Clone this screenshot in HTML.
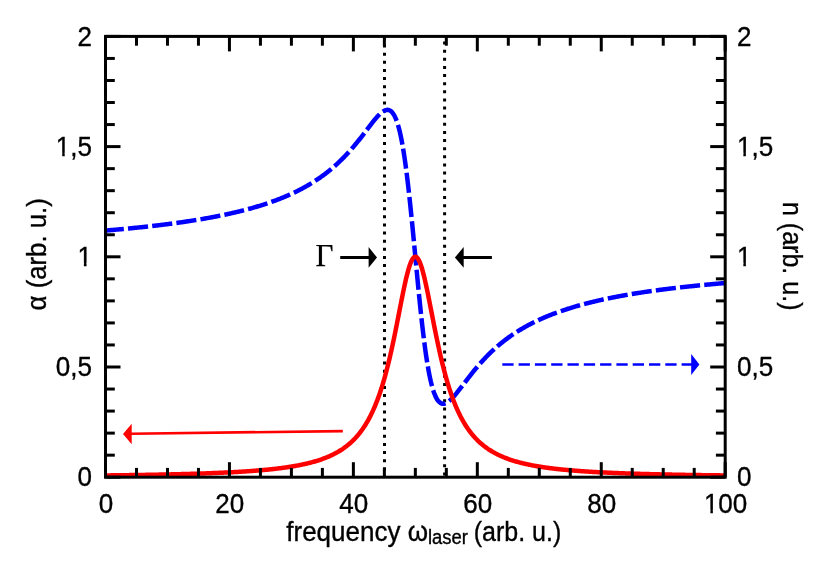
<!DOCTYPE html>
<html><head><meta charset="utf-8"><title>chart</title>
<style>
html,body{margin:0;padding:0;background:#fff;}
svg{display:block;will-change:transform;}
text{font-family:"Liberation Sans",sans-serif;font-size:28px;fill:#000;stroke:#000;stroke-width:0.35px;}
.serif{font-family:"Liberation Serif",serif;}
</style></head><body>
<svg width="830" height="572" viewBox="0 0 830 572">
<rect x="0" y="0" width="830" height="572" fill="#fff"/>
<!-- dotted vertical lines -->
<g stroke="#000" stroke-width="3" fill="none" stroke-dasharray="3 5.13">
<line x1="384.5" y1="36.4" x2="384.5" y2="477.2" stroke-dashoffset="0"/>
<line x1="444.6" y1="36.4" x2="444.6" y2="477.2" stroke-dashoffset="3"/>
</g>
<!-- curves -->
<path d="M105.50,230.56 L106.27,230.50 L107.05,230.43 L107.82,230.37 L108.60,230.30 L109.37,230.24 L110.15,230.17 L110.92,230.10 L111.70,230.04 L112.47,229.97 L113.25,229.90 L114.02,229.84 L114.80,229.77 L115.57,229.70 L116.34,229.63 L117.12,229.56 L117.89,229.49 L118.67,229.42 L119.44,229.35 L120.22,229.28 L120.99,229.21 L121.77,229.14 L122.54,229.06 L123.32,228.99 L124.09,228.92 L124.87,228.85 L125.64,228.77 L126.41,228.70 L127.19,228.63 L127.96,228.55 L128.74,228.48 L129.51,228.40 L130.29,228.32 L131.06,228.25 L131.84,228.17 L132.61,228.10 L133.39,228.02 L134.16,227.94 L134.94,227.86 L135.71,227.78 L136.49,227.70 L137.26,227.62 L138.03,227.54 L138.81,227.46 L139.58,227.38 L140.36,227.30 L141.13,227.22 L141.91,227.14 L142.68,227.06 L143.46,226.97 L144.23,226.89 L145.01,226.81 L145.78,226.72 L146.56,226.64 L147.33,226.55 L148.10,226.47 L148.88,226.38 L149.65,226.29 L150.43,226.21 L151.20,226.12 L151.98,226.03 L152.75,225.94 L153.53,225.85 L154.30,225.76 L155.08,225.67 L155.85,225.58 L156.63,225.49 L157.40,225.40 L158.17,225.31 L158.95,225.21 L159.72,225.12 L160.50,225.02 L161.27,224.93 L162.05,224.84 L162.82,224.74 L163.60,224.64 L164.37,224.55 L165.15,224.45 L165.92,224.35 L166.70,224.25 L167.47,224.15 L168.24,224.05 L169.02,223.95 L169.79,223.85 L170.57,223.75 L171.34,223.65 L172.12,223.55 L172.89,223.44 L173.67,223.34 L174.44,223.23 L175.22,223.13 L175.99,223.02 L176.77,222.91 L177.54,222.81 L178.31,222.70 L179.09,222.59 L179.86,222.48 L180.64,222.37 L181.41,222.26 L182.19,222.15 L182.96,222.04 L183.74,221.92 L184.51,221.81 L185.29,221.70 L186.06,221.58 L186.84,221.46 L187.61,221.35 L188.38,221.23 L189.16,221.11 L189.93,220.99 L190.71,220.87 L191.48,220.75 L192.26,220.63 L193.03,220.51 L193.81,220.39 L194.58,220.26 L195.36,220.14 L196.13,220.01 L196.91,219.89 L197.68,219.76 L198.45,219.63 L199.23,219.50 L200.00,219.37 L200.78,219.24 L201.55,219.11 L202.33,218.98 L203.10,218.84 L203.88,218.71 L204.65,218.58 L205.43,218.44 L206.20,218.30 L206.98,218.16 L207.75,218.03 L208.53,217.88 L209.30,217.74 L210.07,217.60 L210.85,217.46 L211.62,217.31 L212.40,217.17 L213.17,217.02 L213.95,216.88 L214.72,216.73 L215.50,216.58 L216.27,216.43 L217.05,216.28 L217.82,216.12 L218.60,215.97 L219.37,215.81 L220.14,215.66 L220.92,215.50 L221.69,215.34 L222.47,215.18 L223.24,215.02 L224.02,214.86 L224.79,214.70 L225.57,214.53 L226.34,214.37 L227.12,214.20 L227.89,214.03 L228.67,213.86 L229.44,213.69 L230.21,213.52 L230.99,213.34 L231.76,213.17 L232.54,212.99 L233.31,212.81 L234.09,212.64 L234.86,212.45 L235.64,212.27 L236.41,212.09 L237.19,211.90 L237.96,211.72 L238.74,211.53 L239.51,211.34 L240.28,211.15 L241.06,210.95 L241.83,210.76 L242.61,210.56 L243.38,210.37 L244.16,210.17 L244.93,209.97 L245.71,209.76 L246.48,209.56 L247.26,209.35 L248.03,209.15 L248.81,208.94 L249.58,208.72 L250.35,208.51 L251.13,208.30 L251.90,208.08 L252.68,207.86 L253.45,207.64 L254.23,207.42 L255.00,207.19 L255.78,206.97 L256.55,206.74 L257.33,206.51 L258.10,206.27 L258.88,206.04 L259.65,205.80 L260.43,205.56 L261.20,205.32 L261.97,205.08 L262.75,204.83 L263.52,204.59 L264.30,204.34 L265.07,204.08 L265.85,203.83 L266.62,203.57 L267.40,203.31 L268.17,203.05 L268.95,202.79 L269.72,202.52 L270.50,202.25 L271.27,201.98 L272.04,201.70 L272.82,201.42 L273.59,201.14 L274.37,200.86 L275.14,200.58 L275.92,200.29 L276.69,200.00 L277.47,199.70 L278.24,199.40 L279.02,199.10 L279.79,198.80 L280.57,198.50 L281.34,198.19 L282.11,197.87 L282.89,197.56 L283.66,197.24 L284.44,196.92 L285.21,196.59 L285.99,196.26 L286.76,195.93 L287.54,195.60 L288.31,195.26 L289.09,194.92 L289.86,194.57 L290.64,194.22 L291.41,193.87 L292.18,193.51 L292.96,193.15 L293.73,192.78 L294.51,192.41 L295.28,192.04 L296.06,191.66 L296.83,191.28 L297.61,190.90 L298.38,190.51 L299.16,190.11 L299.93,189.71 L300.71,189.31 L301.48,188.90 L302.25,188.49 L303.03,188.08 L303.80,187.65 L304.58,187.23 L305.35,186.80 L306.13,186.36 L306.90,185.92 L307.68,185.47 L308.45,185.02 L309.23,184.57 L310.00,184.11 L310.78,183.64 L311.55,183.17 L312.32,182.69 L313.10,182.20 L313.87,181.71 L314.65,181.22 L315.42,180.72 L316.20,180.21 L316.97,179.69 L317.75,179.17 L318.52,178.65 L319.30,178.12 L320.07,177.58 L320.85,177.03 L321.62,176.48 L322.39,175.92 L323.17,175.35 L323.94,174.78 L324.72,174.20 L325.49,173.61 L326.27,173.02 L327.04,172.42 L327.82,171.81 L328.59,171.19 L329.37,170.56 L330.14,169.93 L330.92,169.29 L331.69,168.64 L332.47,167.98 L333.24,167.32 L334.01,166.64 L334.79,165.96 L335.56,165.27 L336.34,164.57 L337.11,163.86 L337.89,163.15 L338.66,162.42 L339.44,161.68 L340.21,160.94 L340.99,160.19 L341.76,159.42 L342.54,158.65 L343.31,157.87 L344.08,157.08 L344.86,156.28 L345.63,155.47 L346.41,154.65 L347.18,153.82 L347.96,152.98 L348.73,152.13 L349.51,151.27 L350.28,150.40 L351.06,149.52 L351.83,148.63 L352.61,147.74 L353.38,146.83 L354.15,145.91 L354.93,144.99 L355.70,144.05 L356.48,143.11 L357.25,142.16 L358.03,141.20 L358.80,140.23 L359.58,139.25 L360.35,138.27 L361.13,137.28 L361.90,136.28 L362.68,135.28 L363.45,134.28 L364.22,133.26 L365.00,132.25 L365.77,131.23 L366.55,130.21 L367.32,129.19 L368.10,128.17 L368.87,127.15 L369.65,126.14 L370.42,125.13 L371.20,124.12 L371.97,123.13 L372.75,122.14 L373.52,121.17 L374.29,120.21 L375.07,119.27 L375.84,118.35 L376.62,117.45 L377.39,116.58 L378.17,115.74 L378.94,114.94 L379.72,114.17 L380.49,113.45 L381.27,112.78 L382.04,112.16 L382.82,111.60 L383.59,111.10 L384.37,110.68 L385.14,110.34 L385.91,110.08 L386.69,109.92 L387.46,109.87 L388.24,109.92 L389.01,110.11 L389.79,110.42 L390.56,110.88 L391.34,111.49 L392.11,112.28 L392.89,113.24 L393.66,114.39 L394.44,115.74 L395.21,117.32 L395.98,119.12 L396.76,121.17 L397.53,123.47 L398.31,126.05 L399.08,128.90 L399.86,132.05 L400.63,135.49 L401.41,139.25 L402.18,143.33 L402.96,147.74 L403.73,152.47 L404.51,157.53 L405.28,162.92 L406.05,168.64 L406.83,174.67 L407.60,181.02 L408.38,187.65 L409.15,194.57 L409.93,201.74 L410.70,209.15 L411.48,216.76 L412.25,224.55 L413.03,232.48 L413.80,240.52 L414.58,248.64 L415.35,256.80 L416.12,264.96 L416.90,273.08 L417.67,281.12 L418.45,289.05 L419.22,296.84 L420.00,304.45 L420.77,311.86 L421.55,319.03 L422.32,325.95 L423.10,332.58 L423.87,338.93 L424.65,344.96 L425.42,350.68 L426.19,356.07 L426.97,361.13 L427.74,365.86 L428.52,370.27 L429.29,374.35 L430.07,378.11 L430.84,381.55 L431.62,384.70 L432.39,387.55 L433.17,390.13 L433.94,392.43 L434.72,394.48 L435.49,396.28 L436.26,397.86 L437.04,399.21 L437.81,400.36 L438.59,401.32 L439.36,402.11 L440.14,402.72 L440.91,403.18 L441.69,403.49 L442.46,403.68 L443.24,403.73 L444.01,403.68 L444.79,403.52 L445.56,403.26 L446.33,402.92 L447.11,402.50 L447.88,402.00 L448.66,401.44 L449.43,400.82 L450.21,400.15 L450.98,399.43 L451.76,398.66 L452.53,397.86 L453.31,397.02 L454.08,396.15 L454.86,395.25 L455.63,394.33 L456.41,393.39 L457.18,392.43 L457.95,391.46 L458.73,390.47 L459.50,389.48 L460.28,388.47 L461.05,387.46 L461.83,386.45 L462.60,385.43 L463.38,384.41 L464.15,383.39 L464.93,382.37 L465.70,381.35 L466.48,380.34 L467.25,379.32 L468.02,378.32 L468.80,377.32 L469.57,376.32 L470.35,375.33 L471.12,374.35 L471.90,373.37 L472.67,372.40 L473.45,371.44 L474.22,370.49 L475.00,369.55 L475.77,368.61 L476.55,367.69 L477.32,366.77 L478.09,365.86 L478.87,364.97 L479.64,364.08 L480.42,363.20 L481.19,362.33 L481.97,361.47 L482.74,360.62 L483.52,359.78 L484.29,358.95 L485.07,358.13 L485.84,357.32 L486.62,356.52 L487.39,355.73 L488.16,354.95 L488.94,354.18 L489.71,353.41 L490.49,352.66 L491.26,351.92 L492.04,351.18 L492.81,350.45 L493.59,349.74 L494.36,349.03 L495.14,348.33 L495.91,347.64 L496.69,346.96 L497.46,346.28 L498.23,345.62 L499.01,344.96 L499.78,344.31 L500.56,343.67 L501.33,343.04 L502.11,342.41 L502.88,341.79 L503.66,341.18 L504.43,340.58 L505.21,339.99 L505.98,339.40 L506.76,338.82 L507.53,338.25 L508.31,337.68 L509.08,337.12 L509.85,336.57 L510.63,336.02 L511.40,335.48 L512.18,334.95 L512.95,334.43 L513.73,333.91 L514.50,333.39 L515.28,332.88 L516.05,332.38 L516.83,331.89 L517.60,331.40 L518.38,330.91 L519.15,330.43 L519.92,329.96 L520.70,329.49 L521.47,329.03 L522.25,328.58 L523.02,328.13 L523.80,327.68 L524.57,327.24 L525.35,326.80 L526.12,326.37 L526.90,325.95 L527.67,325.52 L528.45,325.11 L529.22,324.70 L529.99,324.29 L530.77,323.89 L531.54,323.49 L532.32,323.09 L533.09,322.70 L533.87,322.32 L534.64,321.94 L535.42,321.56 L536.19,321.19 L536.97,320.82 L537.74,320.45 L538.52,320.09 L539.29,319.73 L540.06,319.38 L540.84,319.03 L541.61,318.68 L542.39,318.34 L543.16,318.00 L543.94,317.67 L544.71,317.34 L545.49,317.01 L546.26,316.68 L547.04,316.36 L547.81,316.04 L548.59,315.73 L549.36,315.41 L550.13,315.10 L550.91,314.80 L551.68,314.50 L552.46,314.20 L553.23,313.90 L554.01,313.60 L554.78,313.31 L555.56,313.02 L556.33,312.74 L557.11,312.46 L557.88,312.18 L558.66,311.90 L559.43,311.62 L560.20,311.35 L560.98,311.08 L561.75,310.81 L562.53,310.55 L563.30,310.29 L564.08,310.03 L564.85,309.77 L565.63,309.52 L566.40,309.26 L567.18,309.01 L567.95,308.77 L568.73,308.52 L569.50,308.28 L570.27,308.04 L571.05,307.80 L571.82,307.56 L572.60,307.33 L573.37,307.09 L574.15,306.86 L574.92,306.63 L575.70,306.41 L576.47,306.18 L577.25,305.96 L578.02,305.74 L578.80,305.52 L579.57,305.30 L580.35,305.09 L581.12,304.88 L581.89,304.66 L582.67,304.45 L583.44,304.25 L584.22,304.04 L584.99,303.84 L585.77,303.63 L586.54,303.43 L587.32,303.23 L588.09,303.04 L588.87,302.84 L589.64,302.65 L590.42,302.45 L591.19,302.26 L591.96,302.07 L592.74,301.88 L593.51,301.70 L594.29,301.51 L595.06,301.33 L595.84,301.15 L596.61,300.96 L597.39,300.79 L598.16,300.61 L598.94,300.43 L599.71,300.26 L600.49,300.08 L601.26,299.91 L602.03,299.74 L602.81,299.57 L603.58,299.40 L604.36,299.23 L605.13,299.07 L605.91,298.90 L606.68,298.74 L607.46,298.58 L608.23,298.42 L609.01,298.26 L609.78,298.10 L610.56,297.94 L611.33,297.79 L612.10,297.63 L612.88,297.48 L613.65,297.32 L614.43,297.17 L615.20,297.02 L615.98,296.87 L616.75,296.72 L617.53,296.58 L618.30,296.43 L619.08,296.29 L619.85,296.14 L620.63,296.00 L621.40,295.86 L622.17,295.72 L622.95,295.57 L623.72,295.44 L624.50,295.30 L625.27,295.16 L626.05,295.02 L626.82,294.89 L627.60,294.76 L628.37,294.62 L629.15,294.49 L629.92,294.36 L630.70,294.23 L631.47,294.10 L632.25,293.97 L633.02,293.84 L633.79,293.71 L634.57,293.59 L635.34,293.46 L636.12,293.34 L636.89,293.21 L637.67,293.09 L638.44,292.97 L639.22,292.85 L639.99,292.73 L640.77,292.61 L641.54,292.49 L642.32,292.37 L643.09,292.25 L643.86,292.14 L644.64,292.02 L645.41,291.90 L646.19,291.79 L646.96,291.68 L647.74,291.56 L648.51,291.45 L649.29,291.34 L650.06,291.23 L650.84,291.12 L651.61,291.01 L652.39,290.90 L653.16,290.79 L653.93,290.69 L654.71,290.58 L655.48,290.47 L656.26,290.37 L657.03,290.26 L657.81,290.16 L658.58,290.05 L659.36,289.95 L660.13,289.85 L660.91,289.75 L661.68,289.65 L662.46,289.55 L663.23,289.45 L664.00,289.35 L664.78,289.25 L665.55,289.15 L666.33,289.05 L667.10,288.96 L667.88,288.86 L668.65,288.76 L669.43,288.67 L670.20,288.58 L670.98,288.48 L671.75,288.39 L672.53,288.29 L673.30,288.20 L674.07,288.11 L674.85,288.02 L675.62,287.93 L676.40,287.84 L677.17,287.75 L677.95,287.66 L678.72,287.57 L679.50,287.48 L680.27,287.39 L681.05,287.31 L681.82,287.22 L682.60,287.13 L683.37,287.05 L684.14,286.96 L684.92,286.88 L685.69,286.79 L686.47,286.71 L687.24,286.63 L688.02,286.54 L688.79,286.46 L689.57,286.38 L690.34,286.30 L691.12,286.22 L691.89,286.14 L692.67,286.06 L693.44,285.98 L694.22,285.90 L694.99,285.82 L695.76,285.74 L696.54,285.66 L697.31,285.58 L698.09,285.50 L698.86,285.43 L699.64,285.35 L700.41,285.28 L701.19,285.20 L701.96,285.12 L702.74,285.05 L703.51,284.97 L704.29,284.90 L705.06,284.83 L705.83,284.75 L706.61,284.68 L707.38,284.61 L708.16,284.54 L708.93,284.46 L709.71,284.39 L710.48,284.32 L711.26,284.25 L712.03,284.18 L712.81,284.11 L713.58,284.04 L714.36,283.97 L715.13,283.90 L715.90,283.83 L716.68,283.76 L717.45,283.70 L718.23,283.63 L719.00,283.56 L719.78,283.50 L720.55,283.43 L721.33,283.36 L722.10,283.30 L722.88,283.23 L723.65,283.17 L724.43,283.10 L725.20,283.04" fill="none" stroke="#0000ff" stroke-width="4.5" stroke-dasharray="20.2 4.16" stroke-dashoffset="1.8"/>
<path d="M105.50,475.43 L106.27,475.42 L107.05,475.41 L107.82,475.40 L108.60,475.39 L109.37,475.38 L110.15,475.38 L110.92,475.37 L111.70,475.36 L112.47,475.35 L113.25,475.34 L114.02,475.33 L114.80,475.32 L115.57,475.31 L116.34,475.30 L117.12,475.29 L117.89,475.28 L118.67,475.27 L119.44,475.26 L120.22,475.25 L120.99,475.24 L121.77,475.23 L122.54,475.22 L123.32,475.21 L124.09,475.20 L124.87,475.19 L125.64,475.18 L126.41,475.17 L127.19,475.16 L127.96,475.14 L128.74,475.13 L129.51,475.12 L130.29,475.11 L131.06,475.10 L131.84,475.09 L132.61,475.08 L133.39,475.07 L134.16,475.05 L134.94,475.04 L135.71,475.03 L136.49,475.02 L137.26,475.01 L138.03,474.99 L138.81,474.98 L139.58,474.97 L140.36,474.96 L141.13,474.94 L141.91,474.93 L142.68,474.92 L143.46,474.91 L144.23,474.89 L145.01,474.88 L145.78,474.87 L146.56,474.85 L147.33,474.84 L148.10,474.83 L148.88,474.81 L149.65,474.80 L150.43,474.78 L151.20,474.77 L151.98,474.76 L152.75,474.74 L153.53,474.73 L154.30,474.71 L155.08,474.70 L155.85,474.68 L156.63,474.67 L157.40,474.65 L158.17,474.64 L158.95,474.62 L159.72,474.61 L160.50,474.59 L161.27,474.58 L162.05,474.56 L162.82,474.54 L163.60,474.53 L164.37,474.51 L165.15,474.50 L165.92,474.48 L166.70,474.46 L167.47,474.45 L168.24,474.43 L169.02,474.41 L169.79,474.39 L170.57,474.38 L171.34,474.36 L172.12,474.34 L172.89,474.32 L173.67,474.30 L174.44,474.29 L175.22,474.27 L175.99,474.25 L176.77,474.23 L177.54,474.21 L178.31,474.19 L179.09,474.17 L179.86,474.15 L180.64,474.13 L181.41,474.11 L182.19,474.09 L182.96,474.07 L183.74,474.05 L184.51,474.03 L185.29,474.01 L186.06,473.99 L186.84,473.97 L187.61,473.94 L188.38,473.92 L189.16,473.90 L189.93,473.88 L190.71,473.86 L191.48,473.83 L192.26,473.81 L193.03,473.79 L193.81,473.76 L194.58,473.74 L195.36,473.71 L196.13,473.69 L196.91,473.67 L197.68,473.64 L198.45,473.62 L199.23,473.59 L200.00,473.56 L200.78,473.54 L201.55,473.51 L202.33,473.49 L203.10,473.46 L203.88,473.43 L204.65,473.41 L205.43,473.38 L206.20,473.35 L206.98,473.32 L207.75,473.29 L208.53,473.26 L209.30,473.24 L210.07,473.21 L210.85,473.18 L211.62,473.15 L212.40,473.12 L213.17,473.09 L213.95,473.05 L214.72,473.02 L215.50,472.99 L216.27,472.96 L217.05,472.93 L217.82,472.89 L218.60,472.86 L219.37,472.83 L220.14,472.79 L220.92,472.76 L221.69,472.72 L222.47,472.69 L223.24,472.65 L224.02,472.62 L224.79,472.58 L225.57,472.54 L226.34,472.50 L227.12,472.47 L227.89,472.43 L228.67,472.39 L229.44,472.35 L230.21,472.31 L230.99,472.27 L231.76,472.23 L232.54,472.19 L233.31,472.15 L234.09,472.10 L234.86,472.06 L235.64,472.02 L236.41,471.97 L237.19,471.93 L237.96,471.88 L238.74,471.84 L239.51,471.79 L240.28,471.75 L241.06,471.70 L241.83,471.65 L242.61,471.60 L243.38,471.55 L244.16,471.50 L244.93,471.45 L245.71,471.40 L246.48,471.35 L247.26,471.30 L248.03,471.24 L248.81,471.19 L249.58,471.13 L250.35,471.08 L251.13,471.02 L251.90,470.97 L252.68,470.91 L253.45,470.85 L254.23,470.79 L255.00,470.73 L255.78,470.67 L256.55,470.61 L257.33,470.54 L258.10,470.48 L258.88,470.42 L259.65,470.35 L260.43,470.28 L261.20,470.22 L261.97,470.15 L262.75,470.08 L263.52,470.01 L264.30,469.94 L265.07,469.86 L265.85,469.79 L266.62,469.71 L267.40,469.64 L268.17,469.56 L268.95,469.48 L269.72,469.40 L270.50,469.32 L271.27,469.24 L272.04,469.16 L272.82,469.07 L273.59,468.99 L274.37,468.90 L275.14,468.81 L275.92,468.72 L276.69,468.63 L277.47,468.54 L278.24,468.44 L279.02,468.35 L279.79,468.25 L280.57,468.15 L281.34,468.05 L282.11,467.95 L282.89,467.85 L283.66,467.74 L284.44,467.63 L285.21,467.52 L285.99,467.41 L286.76,467.30 L287.54,467.18 L288.31,467.07 L289.09,466.95 L289.86,466.83 L290.64,466.71 L291.41,466.58 L292.18,466.45 L292.96,466.32 L293.73,466.19 L294.51,466.06 L295.28,465.92 L296.06,465.78 L296.83,465.64 L297.61,465.49 L298.38,465.35 L299.16,465.20 L299.93,465.04 L300.71,464.89 L301.48,464.73 L302.25,464.57 L303.03,464.40 L303.80,464.24 L304.58,464.06 L305.35,463.89 L306.13,463.71 L306.90,463.53 L307.68,463.35 L308.45,463.16 L309.23,462.96 L310.00,462.77 L310.78,462.57 L311.55,462.36 L312.32,462.15 L313.10,461.94 L313.87,461.72 L314.65,461.50 L315.42,461.28 L316.20,461.04 L316.97,460.81 L317.75,460.57 L318.52,460.32 L319.30,460.07 L320.07,459.81 L320.85,459.55 L321.62,459.28 L322.39,459.00 L323.17,458.72 L323.94,458.43 L324.72,458.14 L325.49,457.84 L326.27,457.53 L327.04,457.21 L327.82,456.89 L328.59,456.56 L329.37,456.22 L330.14,455.88 L330.92,455.52 L331.69,455.16 L332.47,454.79 L333.24,454.41 L334.01,454.02 L334.79,453.62 L335.56,453.21 L336.34,452.79 L337.11,452.36 L337.89,451.91 L338.66,451.46 L339.44,450.99 L340.21,450.52 L340.99,450.03 L341.76,449.52 L342.54,449.01 L343.31,448.48 L344.08,447.93 L344.86,447.37 L345.63,446.80 L346.41,446.21 L347.18,445.60 L347.96,444.98 L348.73,444.34 L349.51,443.68 L350.28,443.00 L351.06,442.30 L351.83,441.58 L352.61,440.85 L353.38,440.08 L354.15,439.30 L354.93,438.50 L355.70,437.67 L356.48,436.81 L357.25,435.93 L358.03,435.02 L358.80,434.08 L359.58,433.12 L360.35,432.13 L361.13,431.10 L361.90,430.04 L362.68,428.95 L363.45,427.82 L364.22,426.66 L365.00,425.46 L365.77,424.23 L366.55,422.95 L367.32,421.63 L368.10,420.27 L368.87,418.86 L369.65,417.41 L370.42,415.90 L371.20,414.35 L371.97,412.75 L372.75,411.10 L373.52,409.38 L374.29,407.62 L375.07,405.79 L375.84,403.90 L376.62,401.95 L377.39,399.94 L378.17,397.86 L378.94,395.71 L379.72,393.48 L380.49,391.19 L381.27,388.82 L382.04,386.38 L382.82,383.85 L383.59,381.25 L384.37,378.57 L385.14,375.80 L385.91,372.95 L386.69,370.02 L387.46,367.00 L388.24,363.90 L389.01,360.71 L389.79,357.44 L390.56,354.08 L391.34,350.64 L392.11,347.13 L392.89,343.54 L393.66,339.87 L394.44,336.14 L395.21,332.35 L395.98,328.51 L396.76,324.62 L397.53,320.69 L398.31,316.73 L399.08,312.76 L399.86,308.78 L400.63,304.82 L401.41,300.88 L402.18,296.99 L402.96,293.15 L403.73,289.40 L404.51,285.75 L405.28,282.22 L406.05,278.84 L406.83,275.62 L407.60,272.59 L408.38,269.76 L409.15,267.17 L409.93,264.83 L410.70,262.76 L411.48,260.97 L412.25,259.49 L413.03,258.32 L413.80,257.48 L414.58,256.97 L415.35,256.80 L416.12,256.97 L416.90,257.48 L417.67,258.32 L418.45,259.49 L419.22,260.97 L420.00,262.76 L420.77,264.83 L421.55,267.17 L422.32,269.76 L423.10,272.59 L423.87,275.62 L424.65,278.84 L425.42,282.22 L426.19,285.75 L426.97,289.40 L427.74,293.15 L428.52,296.99 L429.29,300.88 L430.07,304.82 L430.84,308.78 L431.62,312.76 L432.39,316.73 L433.17,320.69 L433.94,324.62 L434.72,328.51 L435.49,332.35 L436.26,336.14 L437.04,339.87 L437.81,343.54 L438.59,347.13 L439.36,350.64 L440.14,354.08 L440.91,357.44 L441.69,360.71 L442.46,363.90 L443.24,367.00 L444.01,370.02 L444.79,372.95 L445.56,375.80 L446.33,378.57 L447.11,381.25 L447.88,383.85 L448.66,386.38 L449.43,388.82 L450.21,391.19 L450.98,393.48 L451.76,395.71 L452.53,397.86 L453.31,399.94 L454.08,401.95 L454.86,403.90 L455.63,405.79 L456.41,407.62 L457.18,409.38 L457.95,411.10 L458.73,412.75 L459.50,414.35 L460.28,415.90 L461.05,417.41 L461.83,418.86 L462.60,420.27 L463.38,421.63 L464.15,422.95 L464.93,424.23 L465.70,425.46 L466.48,426.66 L467.25,427.82 L468.02,428.95 L468.80,430.04 L469.57,431.10 L470.35,432.13 L471.12,433.12 L471.90,434.08 L472.67,435.02 L473.45,435.93 L474.22,436.81 L475.00,437.67 L475.77,438.50 L476.55,439.30 L477.32,440.08 L478.09,440.85 L478.87,441.58 L479.64,442.30 L480.42,443.00 L481.19,443.68 L481.97,444.34 L482.74,444.98 L483.52,445.60 L484.29,446.21 L485.07,446.80 L485.84,447.37 L486.62,447.93 L487.39,448.48 L488.16,449.01 L488.94,449.52 L489.71,450.03 L490.49,450.52 L491.26,450.99 L492.04,451.46 L492.81,451.91 L493.59,452.36 L494.36,452.79 L495.14,453.21 L495.91,453.62 L496.69,454.02 L497.46,454.41 L498.23,454.79 L499.01,455.16 L499.78,455.52 L500.56,455.88 L501.33,456.22 L502.11,456.56 L502.88,456.89 L503.66,457.21 L504.43,457.53 L505.21,457.84 L505.98,458.14 L506.76,458.43 L507.53,458.72 L508.31,459.00 L509.08,459.28 L509.85,459.55 L510.63,459.81 L511.40,460.07 L512.18,460.32 L512.95,460.57 L513.73,460.81 L514.50,461.04 L515.28,461.28 L516.05,461.50 L516.83,461.72 L517.60,461.94 L518.38,462.15 L519.15,462.36 L519.92,462.57 L520.70,462.77 L521.47,462.96 L522.25,463.16 L523.02,463.35 L523.80,463.53 L524.57,463.71 L525.35,463.89 L526.12,464.06 L526.90,464.24 L527.67,464.40 L528.45,464.57 L529.22,464.73 L529.99,464.89 L530.77,465.04 L531.54,465.20 L532.32,465.35 L533.09,465.49 L533.87,465.64 L534.64,465.78 L535.42,465.92 L536.19,466.06 L536.97,466.19 L537.74,466.32 L538.52,466.45 L539.29,466.58 L540.06,466.71 L540.84,466.83 L541.61,466.95 L542.39,467.07 L543.16,467.18 L543.94,467.30 L544.71,467.41 L545.49,467.52 L546.26,467.63 L547.04,467.74 L547.81,467.85 L548.59,467.95 L549.36,468.05 L550.13,468.15 L550.91,468.25 L551.68,468.35 L552.46,468.44 L553.23,468.54 L554.01,468.63 L554.78,468.72 L555.56,468.81 L556.33,468.90 L557.11,468.99 L557.88,469.07 L558.66,469.16 L559.43,469.24 L560.20,469.32 L560.98,469.40 L561.75,469.48 L562.53,469.56 L563.30,469.64 L564.08,469.71 L564.85,469.79 L565.63,469.86 L566.40,469.94 L567.18,470.01 L567.95,470.08 L568.73,470.15 L569.50,470.22 L570.27,470.28 L571.05,470.35 L571.82,470.42 L572.60,470.48 L573.37,470.54 L574.15,470.61 L574.92,470.67 L575.70,470.73 L576.47,470.79 L577.25,470.85 L578.02,470.91 L578.80,470.97 L579.57,471.02 L580.35,471.08 L581.12,471.13 L581.89,471.19 L582.67,471.24 L583.44,471.30 L584.22,471.35 L584.99,471.40 L585.77,471.45 L586.54,471.50 L587.32,471.55 L588.09,471.60 L588.87,471.65 L589.64,471.70 L590.42,471.75 L591.19,471.79 L591.96,471.84 L592.74,471.88 L593.51,471.93 L594.29,471.97 L595.06,472.02 L595.84,472.06 L596.61,472.10 L597.39,472.15 L598.16,472.19 L598.94,472.23 L599.71,472.27 L600.49,472.31 L601.26,472.35 L602.03,472.39 L602.81,472.43 L603.58,472.47 L604.36,472.50 L605.13,472.54 L605.91,472.58 L606.68,472.62 L607.46,472.65 L608.23,472.69 L609.01,472.72 L609.78,472.76 L610.56,472.79 L611.33,472.83 L612.10,472.86 L612.88,472.89 L613.65,472.93 L614.43,472.96 L615.20,472.99 L615.98,473.02 L616.75,473.05 L617.53,473.09 L618.30,473.12 L619.08,473.15 L619.85,473.18 L620.63,473.21 L621.40,473.24 L622.17,473.26 L622.95,473.29 L623.72,473.32 L624.50,473.35 L625.27,473.38 L626.05,473.41 L626.82,473.43 L627.60,473.46 L628.37,473.49 L629.15,473.51 L629.92,473.54 L630.70,473.56 L631.47,473.59 L632.25,473.62 L633.02,473.64 L633.79,473.67 L634.57,473.69 L635.34,473.71 L636.12,473.74 L636.89,473.76 L637.67,473.79 L638.44,473.81 L639.22,473.83 L639.99,473.86 L640.77,473.88 L641.54,473.90 L642.32,473.92 L643.09,473.94 L643.86,473.97 L644.64,473.99 L645.41,474.01 L646.19,474.03 L646.96,474.05 L647.74,474.07 L648.51,474.09 L649.29,474.11 L650.06,474.13 L650.84,474.15 L651.61,474.17 L652.39,474.19 L653.16,474.21 L653.93,474.23 L654.71,474.25 L655.48,474.27 L656.26,474.29 L657.03,474.30 L657.81,474.32 L658.58,474.34 L659.36,474.36 L660.13,474.38 L660.91,474.39 L661.68,474.41 L662.46,474.43 L663.23,474.45 L664.00,474.46 L664.78,474.48 L665.55,474.50 L666.33,474.51 L667.10,474.53 L667.88,474.54 L668.65,474.56 L669.43,474.58 L670.20,474.59 L670.98,474.61 L671.75,474.62 L672.53,474.64 L673.30,474.65 L674.07,474.67 L674.85,474.68 L675.62,474.70 L676.40,474.71 L677.17,474.73 L677.95,474.74 L678.72,474.76 L679.50,474.77 L680.27,474.78 L681.05,474.80 L681.82,474.81 L682.60,474.83 L683.37,474.84 L684.14,474.85 L684.92,474.87 L685.69,474.88 L686.47,474.89 L687.24,474.91 L688.02,474.92 L688.79,474.93 L689.57,474.94 L690.34,474.96 L691.12,474.97 L691.89,474.98 L692.67,474.99 L693.44,475.01 L694.22,475.02 L694.99,475.03 L695.76,475.04 L696.54,475.05 L697.31,475.07 L698.09,475.08 L698.86,475.09 L699.64,475.10 L700.41,475.11 L701.19,475.12 L701.96,475.13 L702.74,475.14 L703.51,475.16 L704.29,475.17 L705.06,475.18 L705.83,475.19 L706.61,475.20 L707.38,475.21 L708.16,475.22 L708.93,475.23 L709.71,475.24 L710.48,475.25 L711.26,475.26 L712.03,475.27 L712.81,475.28 L713.58,475.29 L714.36,475.30 L715.13,475.31 L715.90,475.32 L716.68,475.33 L717.45,475.34 L718.23,475.35 L719.00,475.36 L719.78,475.37 L720.55,475.38 L721.33,475.38 L722.10,475.39 L722.88,475.40 L723.65,475.41 L724.43,475.42 L725.20,475.43" fill="none" stroke="#ff0000" stroke-width="4.5" stroke-linejoin="round"/>
<!-- frame -->
<g stroke="#000" stroke-width="3.0" fill="none">
<rect x="105.50" y="36.40" width="619.70" height="440.80"/>
<line x1="105.50" y1="477.20" x2="105.50" y2="462.20"/>
<line x1="105.50" y1="36.40" x2="105.50" y2="51.40"/>
<line x1="136.49" y1="477.20" x2="136.49" y2="467.90"/>
<line x1="136.49" y1="36.40" x2="136.49" y2="45.70"/>
<line x1="167.47" y1="477.20" x2="167.47" y2="467.90"/>
<line x1="167.47" y1="36.40" x2="167.47" y2="45.70"/>
<line x1="198.45" y1="477.20" x2="198.45" y2="467.90"/>
<line x1="198.45" y1="36.40" x2="198.45" y2="45.70"/>
<line x1="229.44" y1="477.20" x2="229.44" y2="462.20"/>
<line x1="229.44" y1="36.40" x2="229.44" y2="51.40"/>
<line x1="260.43" y1="477.20" x2="260.43" y2="467.90"/>
<line x1="260.43" y1="36.40" x2="260.43" y2="45.70"/>
<line x1="291.41" y1="477.20" x2="291.41" y2="467.90"/>
<line x1="291.41" y1="36.40" x2="291.41" y2="45.70"/>
<line x1="322.39" y1="477.20" x2="322.39" y2="467.90"/>
<line x1="322.39" y1="36.40" x2="322.39" y2="45.70"/>
<line x1="353.38" y1="477.20" x2="353.38" y2="462.20"/>
<line x1="353.38" y1="36.40" x2="353.38" y2="51.40"/>
<line x1="384.37" y1="477.20" x2="384.37" y2="467.90"/>
<line x1="384.37" y1="36.40" x2="384.37" y2="45.70"/>
<line x1="415.35" y1="477.20" x2="415.35" y2="467.90"/>
<line x1="415.35" y1="36.40" x2="415.35" y2="45.70"/>
<line x1="446.33" y1="477.20" x2="446.33" y2="467.90"/>
<line x1="446.33" y1="36.40" x2="446.33" y2="45.70"/>
<line x1="477.32" y1="477.20" x2="477.32" y2="462.20"/>
<line x1="477.32" y1="36.40" x2="477.32" y2="51.40"/>
<line x1="508.31" y1="477.20" x2="508.31" y2="467.90"/>
<line x1="508.31" y1="36.40" x2="508.31" y2="45.70"/>
<line x1="539.29" y1="477.20" x2="539.29" y2="467.90"/>
<line x1="539.29" y1="36.40" x2="539.29" y2="45.70"/>
<line x1="570.27" y1="477.20" x2="570.27" y2="467.90"/>
<line x1="570.27" y1="36.40" x2="570.27" y2="45.70"/>
<line x1="601.26" y1="477.20" x2="601.26" y2="462.20"/>
<line x1="601.26" y1="36.40" x2="601.26" y2="51.40"/>
<line x1="632.25" y1="477.20" x2="632.25" y2="467.90"/>
<line x1="632.25" y1="36.40" x2="632.25" y2="45.70"/>
<line x1="663.23" y1="477.20" x2="663.23" y2="467.90"/>
<line x1="663.23" y1="36.40" x2="663.23" y2="45.70"/>
<line x1="694.22" y1="477.20" x2="694.22" y2="467.90"/>
<line x1="694.22" y1="36.40" x2="694.22" y2="45.70"/>
<line x1="725.20" y1="477.20" x2="725.20" y2="462.20"/>
<line x1="725.20" y1="36.40" x2="725.20" y2="51.40"/>
<line x1="105.50" y1="477.20" x2="120.50" y2="477.20"/>
<line x1="725.20" y1="477.20" x2="710.20" y2="477.20"/>
<line x1="105.50" y1="455.16" x2="114.80" y2="455.16"/>
<line x1="725.20" y1="455.16" x2="715.90" y2="455.16"/>
<line x1="105.50" y1="433.12" x2="114.80" y2="433.12"/>
<line x1="725.20" y1="433.12" x2="715.90" y2="433.12"/>
<line x1="105.50" y1="411.08" x2="114.80" y2="411.08"/>
<line x1="725.20" y1="411.08" x2="715.90" y2="411.08"/>
<line x1="105.50" y1="389.04" x2="114.80" y2="389.04"/>
<line x1="725.20" y1="389.04" x2="715.90" y2="389.04"/>
<line x1="105.50" y1="367.00" x2="120.50" y2="367.00"/>
<line x1="725.20" y1="367.00" x2="710.20" y2="367.00"/>
<line x1="105.50" y1="344.96" x2="114.80" y2="344.96"/>
<line x1="725.20" y1="344.96" x2="715.90" y2="344.96"/>
<line x1="105.50" y1="322.92" x2="114.80" y2="322.92"/>
<line x1="725.20" y1="322.92" x2="715.90" y2="322.92"/>
<line x1="105.50" y1="300.88" x2="114.80" y2="300.88"/>
<line x1="725.20" y1="300.88" x2="715.90" y2="300.88"/>
<line x1="105.50" y1="278.84" x2="114.80" y2="278.84"/>
<line x1="725.20" y1="278.84" x2="715.90" y2="278.84"/>
<line x1="105.50" y1="256.80" x2="120.50" y2="256.80"/>
<line x1="725.20" y1="256.80" x2="710.20" y2="256.80"/>
<line x1="105.50" y1="234.76" x2="114.80" y2="234.76"/>
<line x1="725.20" y1="234.76" x2="715.90" y2="234.76"/>
<line x1="105.50" y1="212.72" x2="114.80" y2="212.72"/>
<line x1="725.20" y1="212.72" x2="715.90" y2="212.72"/>
<line x1="105.50" y1="190.68" x2="114.80" y2="190.68"/>
<line x1="725.20" y1="190.68" x2="715.90" y2="190.68"/>
<line x1="105.50" y1="168.64" x2="114.80" y2="168.64"/>
<line x1="725.20" y1="168.64" x2="715.90" y2="168.64"/>
<line x1="105.50" y1="146.60" x2="120.50" y2="146.60"/>
<line x1="725.20" y1="146.60" x2="710.20" y2="146.60"/>
<line x1="105.50" y1="124.56" x2="114.80" y2="124.56"/>
<line x1="725.20" y1="124.56" x2="715.90" y2="124.56"/>
<line x1="105.50" y1="102.52" x2="114.80" y2="102.52"/>
<line x1="725.20" y1="102.52" x2="715.90" y2="102.52"/>
<line x1="105.50" y1="80.48" x2="114.80" y2="80.48"/>
<line x1="725.20" y1="80.48" x2="715.90" y2="80.48"/>
<line x1="105.50" y1="58.44" x2="114.80" y2="58.44"/>
<line x1="725.20" y1="58.44" x2="715.90" y2="58.44"/>
<line x1="105.50" y1="36.40" x2="120.50" y2="36.40"/>
<line x1="725.20" y1="36.40" x2="710.20" y2="36.40"/>
</g>
<!-- tick labels -->
<g>
<text transform="translate(105.90 512.70) scale(0.930 1)" text-anchor="middle">0</text>
<text transform="translate(229.84 512.70) scale(0.930 1)" text-anchor="middle">20</text>
<text transform="translate(353.78 512.70) scale(0.930 1)" text-anchor="middle">40</text>
<text transform="translate(477.72 512.70) scale(0.930 1)" text-anchor="middle">60</text>
<text transform="translate(601.66 512.70) scale(0.930 1)" text-anchor="middle">80</text>
<text transform="translate(725.60 512.70) scale(0.930 1)" text-anchor="middle">100</text>
<text transform="translate(91.90 486.40) scale(0.930 1)" text-anchor="end">0</text>
<text transform="translate(737.00 486.40) scale(0.930 1)" text-anchor="start">0</text>
<text transform="translate(91.90 376.20) scale(0.930 1)" text-anchor="end">0,5</text>
<text transform="translate(737.00 376.20) scale(0.930 1)" text-anchor="start">0,5</text>
<text transform="translate(91.90 266.00) scale(0.930 1)" text-anchor="end">1</text>
<text transform="translate(737.00 266.00) scale(0.930 1)" text-anchor="start">1</text>
<text transform="translate(91.90 155.80) scale(0.930 1)" text-anchor="end">1,5</text>
<text transform="translate(737.00 155.80) scale(0.930 1)" text-anchor="start">1,5</text>
<text transform="translate(91.90 45.60) scale(0.930 1)" text-anchor="end">2</text>
<text transform="translate(737.00 45.60) scale(0.930 1)" text-anchor="start">2</text>
</g>
<!-- trim hinting serifs on digit 1 -->
<g fill="#fff" stroke="none">
<rect x="78.50" y="262.80" width="5.37" height="4.60"/>
<rect x="86.55" y="262.80" width="4.95" height="4.60"/>
<rect x="56.50" y="152.80" width="5.71" height="4.60"/>
<rect x="64.71" y="152.80" width="5.79" height="4.60"/>
<rect x="737.50" y="262.80" width="5.87" height="4.60"/>
<rect x="745.88" y="262.80" width="5.62" height="4.60"/>
<rect x="737.50" y="152.80" width="5.87" height="4.60"/>
<rect x="745.88" y="152.80" width="5.62" height="4.60"/>
<rect x="704.50" y="509.80" width="5.87" height="4.60"/>
<rect x="712.88" y="509.80" width="5.62" height="4.60"/>
</g>
<!-- axis titles -->
<text transform="translate(286.30 540.60) scale(0.945 1)" text-anchor="start" style="font-size:27.5px">frequency ω<tspan dy="3.8" style="font-size:19.5px">laser</tspan></text>
<text transform="translate(473.70 540.60) scale(0.910 1)" text-anchor="start" style="font-size:27.5px">(arb. u.)</text>
<text transform="translate(46.30 254.30) rotate(-90) scale(0.954 1)" text-anchor="middle" style="font-size:27px">α (arb. u.)</text>
<text transform="translate(783.30 256.20) rotate(90) scale(0.928 1)" text-anchor="middle" style="font-size:27px">n (arb. u.)</text>
<!-- Gamma + black arrows -->
<text class="serif" transform="translate(315.5 266.4)" style="font-size:31px;stroke-width:0.25px">Γ</text>
<g stroke="#000" stroke-width="3" fill="none">
<line x1="340.2" y1="257.5" x2="369" y2="257.5"/>
<line x1="463" y1="257.5" x2="491.9" y2="257.5"/>
</g>
<polygon points="368.6,247.1 377,257.5 368.6,267.8" fill="#000"/>
<polygon points="463.7,247.1 454.9,257.5 463.7,267.8" fill="#000"/>
<!-- red arrow -->
<line x1="131" y1="433.7" x2="342.8" y2="431.1" stroke="#ff0000" stroke-width="2.6"/>
<polygon points="131.7,423.7 123,433.9 131.7,444.3" fill="#ff0000"/>
<!-- blue arrow -->
<line x1="502.3" y1="364.5" x2="692" y2="364.5" stroke="#0000ff" stroke-width="2.6" stroke-dasharray="11.3 5"/>
<polygon points="691.2,354.1 699.4,364.5 691.2,374.9" fill="#0000ff"/>
</svg>
</body></html>
